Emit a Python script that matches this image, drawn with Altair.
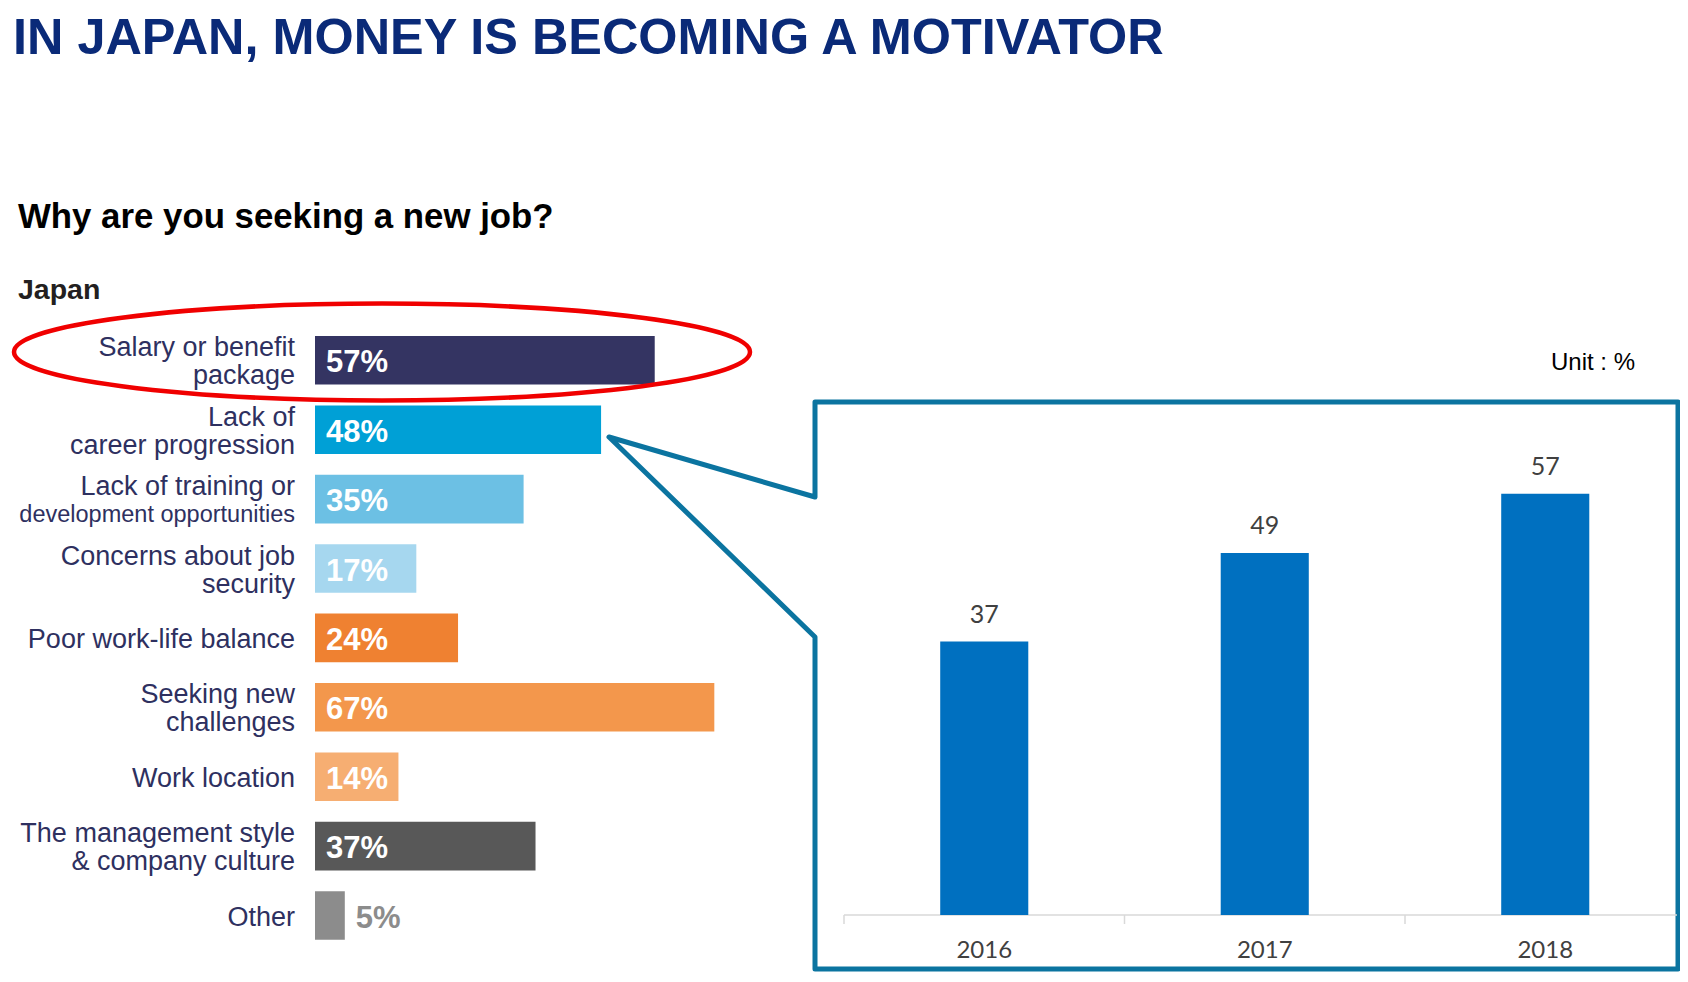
import altair as alt
import pandas as pd

# ---------------- data ----------------
reasons = [
    "Salary or benefit package",
    "Lack of career progression",
    "Lack of training or development opportunities",
    "Concerns about job security",
    "Poor work-life balance",
    "Seeking new challenges",
    "Work location",
    "The management style & company culture",
    "Other",
]
label_first = [
    "Salary or benefit", "Lack of", "Lack of training or", "Concerns about job",
    "Poor work-life balance", "Seeking new", "Work location",
    "The management style", "Other",
]
label_second = [
    "package", "career progression", "development opportunities", "security",
    "", "challenges", "", "& company culture", "",
]
shares = [57, 48, 35, 17, 24, 67, 14, 37, 5]

years = ["2016", "2017", "2018"]
salary_share = [37, 49, 57]

bar_palette = ["#343462", "#00A0D6", "#6CC0E4", "#A6D7EF", "#EF8131",
               "#F3974C", "#F6AE72", "#585858", "#8C8C8C"]

FONT = "Liberation Sans, Arial, sans-serif"
LABEL_COLOR = "#2E3060"
FRAME_COLOR = "#0B74A0"

df_left = pd.DataFrame({"reason": reasons, "share": shares,
                        "line1": label_first, "line2": label_second})
df_right = pd.DataFrame({"year": years, "share": salary_share})
one = pd.DataFrame({"a": [0]})

# ---------------- left chart ----------------
y_left = alt.Y("reason:N", sort=None, axis=None,
               scale=alt.Scale(domain=reasons, range=[317.6, 942.2],
                               paddingInner=0.3, paddingOuter=0.15))
x_left = alt.X("share:Q", axis=None,
               scale=alt.Scale(domain=[0, 100], range=[307, 903], nice=False))

base_left = alt.Chart(df_left)

bars_left = base_left.mark_bar().encode(
    x=x_left, y=y_left,
    color=alt.Color("reason:N", scale=alt.Scale(domain=reasons, range=bar_palette),
                    legend=None),
)

pct_in = base_left.transform_filter("datum.share >= 10").transform_calculate(
    lbl="datum.share + '%'"
).mark_text(align="left", baseline="middle", font=FONT, fontWeight="bold",
            fontSize=31, color="white", dy=3).encode(
    x=alt.value(318), y=y_left, text="lbl:N")

pct_out = base_left.transform_filter("datum.share < 10").transform_calculate(
    lbl="datum.share + '%'"
).mark_text(align="left", baseline="middle", font=FONT, fontWeight="bold",
            fontSize=31, color="#8C8C8C", dx=11, dy=3).encode(
    x=x_left, y=y_left, text="lbl:N")

lab_single = base_left.transform_filter("datum.line2 == ''").mark_text(
    align="right", baseline="middle", font=FONT, fontSize=27, color=LABEL_COLOR, dy=2
).encode(x=alt.value(287), y=y_left, text="line1:N")

lab_first = base_left.transform_filter("datum.line2 != ''").mark_text(
    align="right", baseline="middle", font=FONT, fontSize=27, color=LABEL_COLOR, dy=-12
).encode(x=alt.value(287), y=y_left, text="line1:N")

lab_second = base_left.transform_filter("datum.line2 != ''").mark_text(
    align="right", baseline="middle", font=FONT, color=LABEL_COLOR, dy=16
).encode(
    x=alt.value(287), y=y_left, text="line2:N",
    size=alt.condition("length(datum.line2) > 20", alt.value(23.5), alt.value(27)),
)

# ---------------- right chart ----------------
x_right = alt.X("year:N", sort=None, axis=None,
                scale=alt.Scale(domain=years, range=[836, 1677.5],
                                paddingInner=0.686, paddingOuter=0.343))
y_right = alt.Y("share:Q", axis=None,
                scale=alt.Scale(domain=[0, 60], range=[907, 463.6], nice=False))

base_right = alt.Chart(df_right)
bars_right = base_right.mark_bar(color="#0070C0").encode(x=x_right, y=y_right)
vals_right = base_right.mark_text(baseline="middle", dy=-27, font="Lato, " + FONT,
                                  fontSize=25, color="#404040").encode(
    x=x_right, y=y_right, text="share:Q")
years_right = base_right.mark_text(baseline="middle", font="Lato, " + FONT,
                                   fontSize=24, color="#404040").encode(
    x=x_right, y=alt.value(943), text="year:N")
ticks_right = base_right.mark_rule(color="#D9D9D9", strokeWidth=1.5,
                                   xOffset=-140.25).encode(
    x=x_right, y=alt.value(907), y2=alt.value(916))
axis_line = alt.Chart(one).mark_rule(color="#D9D9D9", strokeWidth=1.5).encode(
    x=alt.value(836), x2=alt.value(1669), y=alt.value(907))

# ---------------- annotations ----------------
frame_df = pd.DataFrame({
    "k": [0, 1, 2, 3, 4, 5, 6, 7],
    "vx": [807, 1670, 1670, 807, 807, 601, 807, 807],
    "vy": [394, 394, 961, 961, 629, 429, 489, 394],
})
frame = alt.Chart(frame_df).mark_line(
    color=FRAME_COLOR, strokeWidth=5, strokeJoin="round", strokeCap="round"
).encode(x=alt.X("vx:Q", scale=None), y=alt.Y("vy:Q", scale=None), order="k:O")

ellipse_path = ("M -1 0 C -1 -0.0726 -0.5523 -0.1315 0 -0.1315 "
                "C 0.5523 -0.1315 1 -0.0726 1 0 "
                "C 1 0.0726 0.5523 0.1315 0 0.1315 "
                "C -0.5523 0.1315 -1 0.0726 -1 0 Z")
ellipse = alt.Chart(one).mark_point(
    shape=ellipse_path, size=736 ** 2, filled=False, stroke="#F00000",
    strokeWidth=4.5, opacity=1
).encode(x=alt.value(374), y=alt.value(344))

title = alt.Chart(one).mark_text(
    text="IN JAPAN, MONEY IS BECOMING A MOTIVATOR", align="left", baseline="alphabetic",
    font=FONT, fontWeight="bold", fontSize=50.4, color="#0A2A78"
).encode(x=alt.value(5), y=alt.value(46))

subtitle = alt.Chart(one).mark_text(
    text="Why are you seeking a new job?", align="left", baseline="alphabetic",
    font=FONT, fontWeight="bold", fontSize=34.8, color="#000000"
).encode(x=alt.value(10), y=alt.value(220))

japan = alt.Chart(one).mark_text(
    text="Japan", align="left", baseline="alphabetic",
    font=FONT, fontWeight="bold", fontSize=28.5, color="#231F20"
).encode(x=alt.value(10), y=alt.value(291))

unit = alt.Chart(one).mark_text(
    text="Unit : %", align="right", baseline="middle",
    font=FONT, fontSize=24, color="#000000"
).encode(x=alt.value(1627), y=alt.value(355))

chart = alt.layer(
    frame, axis_line, ticks_right, bars_right, vals_right, years_right,
    bars_left, pct_in, pct_out, lab_single, lab_first, lab_second,
    title, subtitle, japan, unit, ellipse,
).resolve_scale(
    x="independent", y="independent", color="independent", size="independent"
).properties(
    width=1672, height=966, autosize=alt.AutoSizeParams(type="none"), padding=0,
    background="white",
).configure_view(stroke=None)

chart.save("out.html", embed_options={"renderer": "svg", "actions": False})
